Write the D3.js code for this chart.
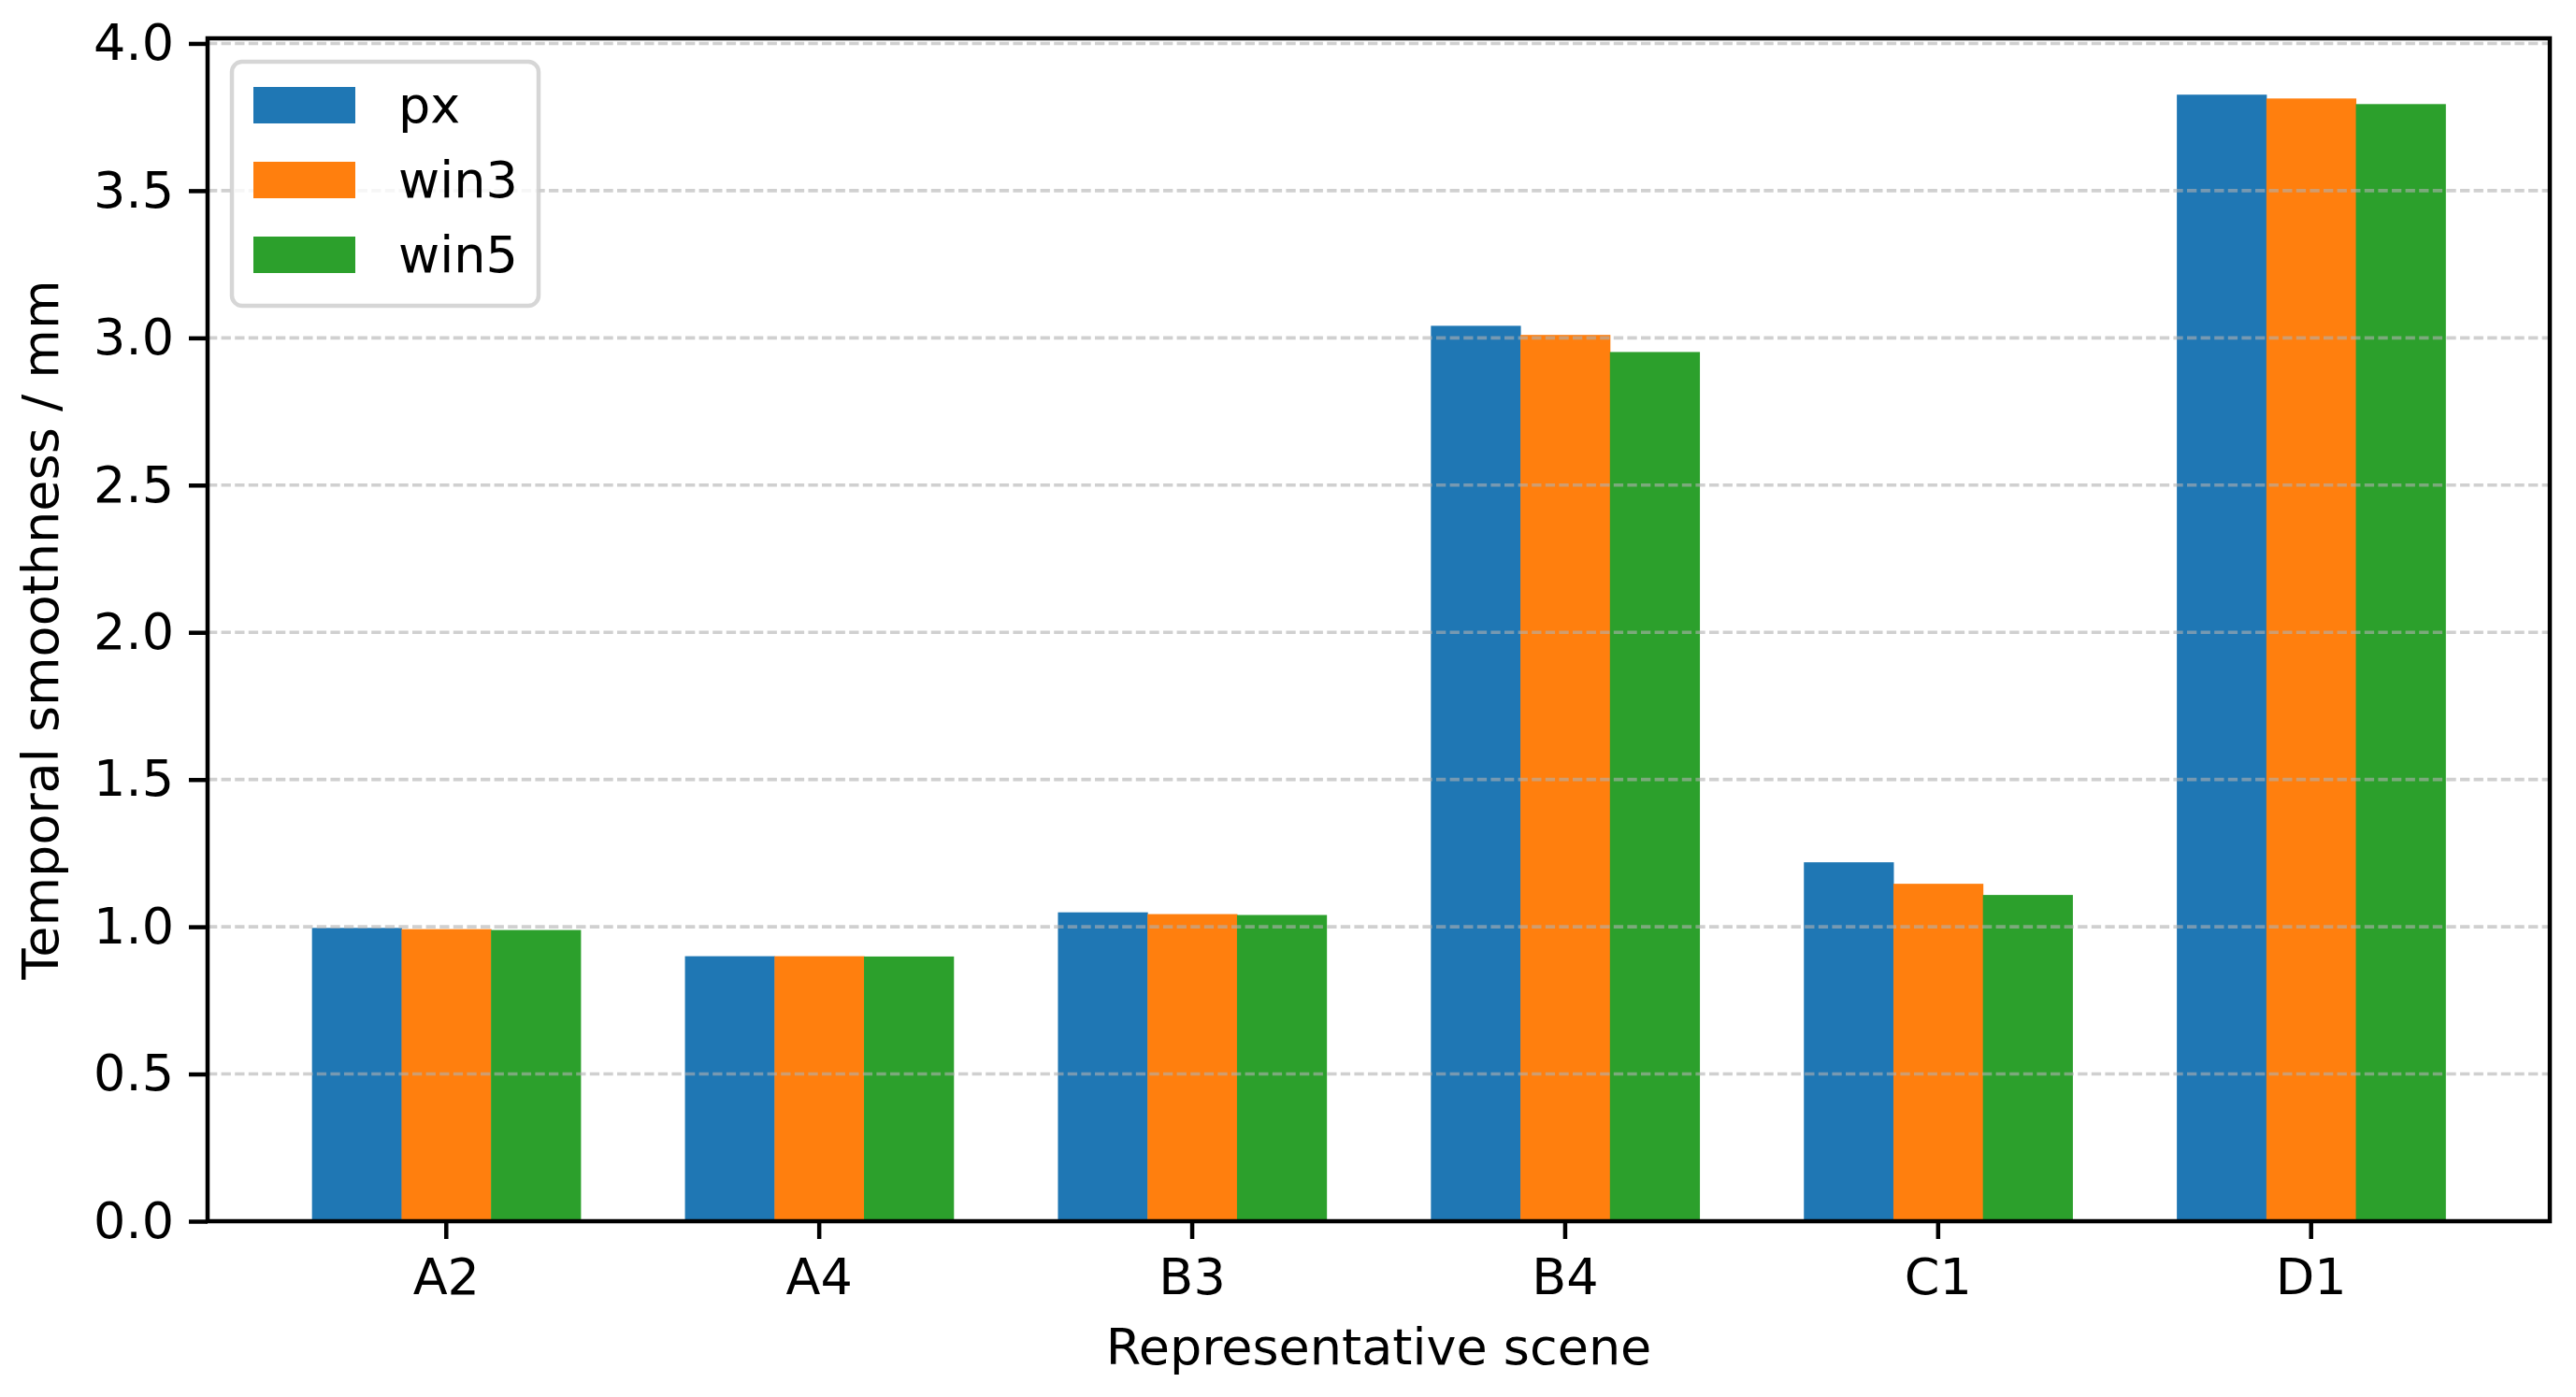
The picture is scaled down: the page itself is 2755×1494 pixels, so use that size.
<!DOCTYPE html>
<html>
<head>
<meta charset="utf-8">
<script src="https://cdn.jsdelivr.net/npm/d3@7"></script>
<style>
  body { margin: 0; background: #fff; }
  text { font-family: "DejaVu Sans", sans-serif; }
</style>
</head>
<body>
<div id="chart"></div>
<script>
// values
var scenes = ["A2", "A4", "B3", "B4", "C1", "D1"];
var seriesNames = ["px", "win3", "win5"];
var pxValues   = [0.996, 0.900, 1.049, 3.041, 1.219, 3.826];
var win3Values = [0.992, 0.900, 1.043, 3.010, 1.146, 3.813];
var win5Values = [0.989, 0.899, 1.040, 2.952, 1.108, 3.794];
var colors = ["#1f77b4", "#ff7f0e", "#2ca02c"];

var margin = { top: 41, right: 28, bottom: 188, left: 222 },
  width = 2755 - margin.left - margin.right,
  height = 1494 - margin.top - margin.bottom;

var allSeries = [pxValues, win3Values, win5Values];

// one row per scene, built from the arrays above
var rows = scenes.map(function (s, i) {
  return { scene: s, values: seriesNames.map(function (n, j) { return { key: n, value: allSeries[j][i] }; }) };
});

var svg = d3.select("#chart")
  .append("svg")
  .attr("width", width + margin.left + margin.right)
  .attr("height", height + margin.top + margin.bottom)
  .append("g")
  .attr("transform", "translate(" + margin.left + "," + margin.top + ")");

var x0 = d3.scaleBand()
  .domain(scenes)
  .range([0, width])
  .paddingInner(0.28)
  .paddingOuter(0.28);

var x1 = d3.scaleBand()
  .domain(seriesNames)
  .range([0, x0.bandwidth()])
  .padding(0);

var yMax = d3.max(allSeries, function (a) { return d3.max(a); }) * 1.05;
var y = d3.scaleLinear()
  .domain([0, yMax])
  .range([height, 0]);

var color = d3.scaleOrdinal().domain(seriesNames).range(colors);

// bars
svg.append("g")
  .selectAll("g")
  .data(rows)
  .enter()
  .append("g")
  .attr("transform", function (d) { return "translate(" + x0(d.scene) + ",0)"; })
  .selectAll("rect")
  .data(function (d) { return d.values; })
  .enter()
  .append("rect")
  .attr("x", function (d) { return x1(d.key); })
  .attr("y", function (d) { return y(d.value); })
  .attr("width", x1.bandwidth() + 0.5)
  .attr("height", function (d) { return height - y(d.value); })
  .attr("fill", function (d) { return color(d.key); });

// dashed horizontal grid, drawn above the bars
var yTicks = y.ticks(8);
svg.append("g")
  .selectAll("line")
  .data(yTicks)
  .enter()
  .append("line")
  .attr("x1", 0)
  .attr("x2", width)
  .attr("y1", function (d) { return y(d); })
  .attr("y2", function (d) { return y(d); })
  .attr("stroke", "#b0b0b0")
  .attr("stroke-opacity", 0.6)
  .attr("stroke-width", 3.6)
  .attr("stroke-dasharray", "10.3,4.3");

// axes
var yAxis = svg.append("g")
  .call(d3.axisLeft(y).tickValues(yTicks).tickFormat(d3.format(".1f")).tickSize(20).tickPadding(16));
var xAxis = svg.append("g")
  .attr("transform", "translate(0," + height + ")")
  .call(d3.axisBottom(x0).tickSize(19).tickPadding(21));

[yAxis, xAxis].forEach(function (a) {
  a.select(".domain").remove();
  a.selectAll(".tick line").attr("stroke", "#000").attr("stroke-width", 4.5);
  a.selectAll(".tick text")
    .attr("fill", "#000")
    .style("font-family", "'DejaVu Sans', sans-serif")
    .style("font-size", "54px");
});

// frame
svg.append("rect")
  .attr("x", 0)
  .attr("y", 0)
  .attr("width", width)
  .attr("height", height)
  .attr("fill", "none")
  .attr("stroke", "#000")
  .attr("stroke-width", 4.5);

// axis labels
svg.append("text")
  .attr("x", width / 2)
  .attr("y", height + 153)
  .attr("text-anchor", "middle")
  .style("font-size", "54px")
  .text("Representative scene");

svg.append("text")
  .attr("transform", "translate(" + (62 - margin.left) + "," + (height / 2) + ") rotate(-90)")
  .attr("text-anchor", "middle")
  .style("font-size", "54px")
  .text("Temporal smoothness / mm");

// legend
var legend = svg.append("g")
  .attr("transform", "translate(" + (248 - margin.left) + "," + (66 - margin.top) + ")");

legend.append("rect")
  .attr("width", 328)
  .attr("height", 261)
  .attr("rx", 11)
  .attr("fill", "#fff")
  .attr("fill-opacity", 0.8)
  .attr("stroke", "#cccccc")
  .attr("stroke-opacity", 0.8)
  .attr("stroke-width", 4.5);

var item = legend.selectAll(".item")
  .data(seriesNames)
  .enter()
  .append("g")
  .attr("transform", function (d, i) { return "translate(23," + (27 + i * 80) + ")"; });

item.append("rect")
  .attr("width", 109)
  .attr("height", 39)
  .attr("fill", function (d) { return color(d); });

item.append("text")
  .attr("x", 155)
  .attr("y", 38)
  .style("font-size", "54px")
  .text(function (d) { return d; });
</script>
</body>
</html>
